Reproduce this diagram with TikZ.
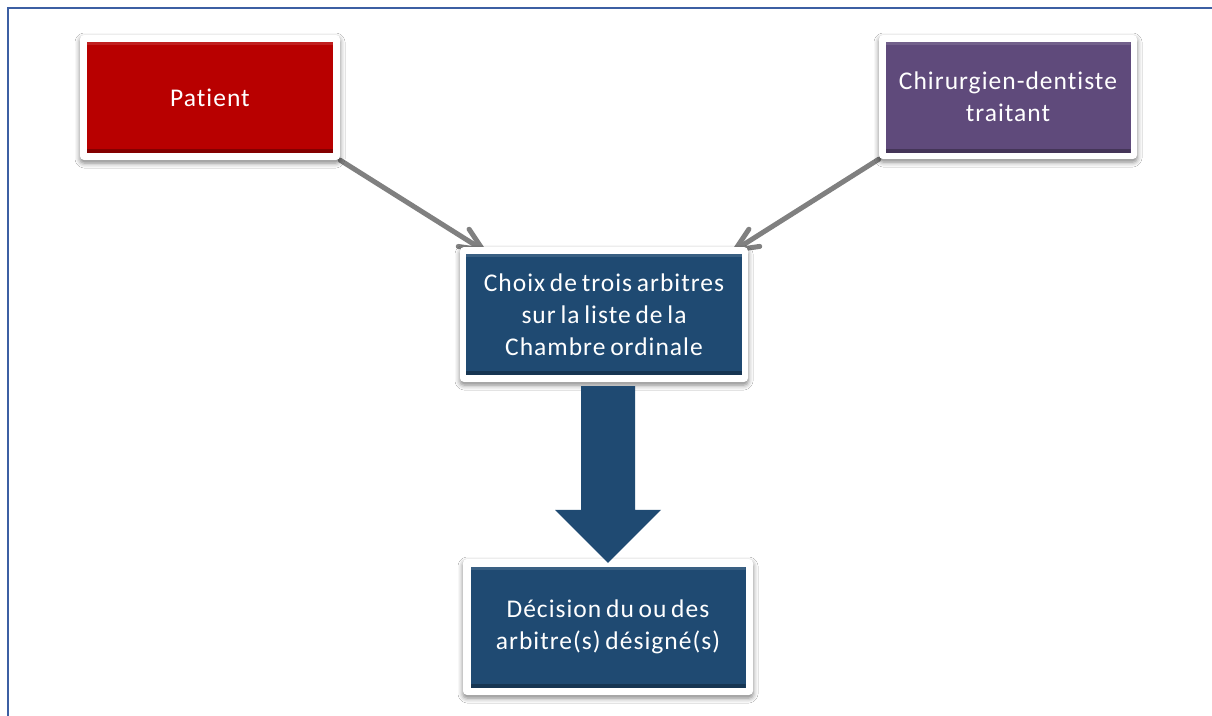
\documentclass[tikz,border=0pt]{standalone}
\usepackage{fontspec}
\setmainfont{Carlito}[LetterSpace=4,WordSpace=0.7,Ligatures={NoCommon}]
\usetikzlibrary{calc,shadows.blur}
\definecolor{pred}{HTML}{B80000}
\definecolor{ppurple}{HTML}{5F4A7B}
\definecolor{pblue}{HTML}{1F4A72}
\definecolor{pgray}{HTML}{808080}
\definecolor{pframe}{HTML}{3C5FA3}
\tikzset{
  outerbox/.style={draw=none, fill=white, rounded corners=4pt, inner sep=0pt,
    blur shadow={shadow xshift=0pt, shadow yshift=-3pt, shadow blur radius=5pt, shadow opacity=50}},
  facebox/.style={fill=#1, text=white, inner sep=0pt, align=center,
    font=\fontsize{25.5}{32}\selectfont,
    path picture={
      \fill[white,opacity=0.12] (path picture bounding box.north west) rectangle ([yshift=-3pt]path picture bounding box.north east);
      \fill[black,opacity=0.28] ([yshift=4pt]path picture bounding box.south west) rectangle (path picture bounding box.south east);
    }},
  conn/.style={draw=pgray, line width=5pt, line cap=round, line join=round},
  bigarrow/.style={fill=pblue, draw=none}
}
\begin{document}
\begin{tikzpicture}[x=1pt,y=-1pt]
\useasboundingbox (0,0) rectangle (1212,715);
\fill[white] (0,0) rectangle (1212,715);
\draw[pframe, line width=1.5pt] (8,716) -- (8,8) -- (1213,8);

% anchor coordinates for arrow tips
\coordinate (tipL) at (483,250);
\coordinate (tipR) at (735,250);

% box centres
\coordinate (cP) at (210,97.5);
\coordinate (cC) at (1008,97);
\coordinate (cM) at (604,314.5);
\coordinate (cD) at (608,627);

% connectors first (beneath boxes)
\node[inner sep=0pt, minimum width=260pt, minimum height=125pt] (patientO) at (cP) {};
\node[inner sep=0pt, minimum width=258pt, minimum height=124pt] (chirO) at (cC) {};
\draw[conn] (patientO.south east) -- (tipL);
\draw[conn] ($(tipL)!25pt!24:(patientO.south east)$) -- (tipL) -- ($(tipL)!25pt!-24:(patientO.south east)$);
\draw[conn] (chirO.south west) -- (tipR);
\draw[conn] ($(tipR)!25pt!24:(chirO.south west)$) -- (tipR) -- ($(tipR)!25pt!-24:(chirO.south west)$);

% boxes
\node[outerbox, minimum width=260pt, minimum height=125pt] (patientF) at (cP) {};
\node[facebox=pred, minimum width=246pt, minimum height=111pt] (patient) at (cP) {Patient};

\node[outerbox, minimum width=258pt, minimum height=124pt] (chirF) at (cC) {};
\node[facebox=ppurple, minimum width=245pt, minimum height=111pt] (chir) at (cC) {Chirurgien-dentiste\\traitant};

\node[outerbox, minimum width=288pt, minimum height=135pt] (choixO) at (cM) {};
\node[facebox=pblue, minimum width=276pt, minimum height=121pt] (choix) at (cM) {Choix de trois arbitres\\sur la liste de la\\Chambre ordinale};

\node[outerbox, minimum width=290pt, minimum height=136pt] (decO) at (cD) {};
\node[facebox=pblue, minimum width=275pt, minimum height=121pt] (dec) at (cD) {Décision du ou des\\arbitre(s) désigné(s)};

% big block arrow from choix to decision
\coordinate (bt) at ($(choixO.south -| dec.center)+(0,4)$);
\coordinate (bb) at ($(decO.north -| dec.center)+(0,4)$);
\fill[bigarrow] ($(bt)+(-27,0)$) -- ($(bt)+(27,0)$) -- ($(bb)+(27,-53)$) -- ($(bb)+(53,-53)$)
  -- (bb) -- ($(bb)+(-53,-53)$) -- ($(bb)+(-27,-53)$) -- cycle;
\end{tikzpicture}
\end{document}
